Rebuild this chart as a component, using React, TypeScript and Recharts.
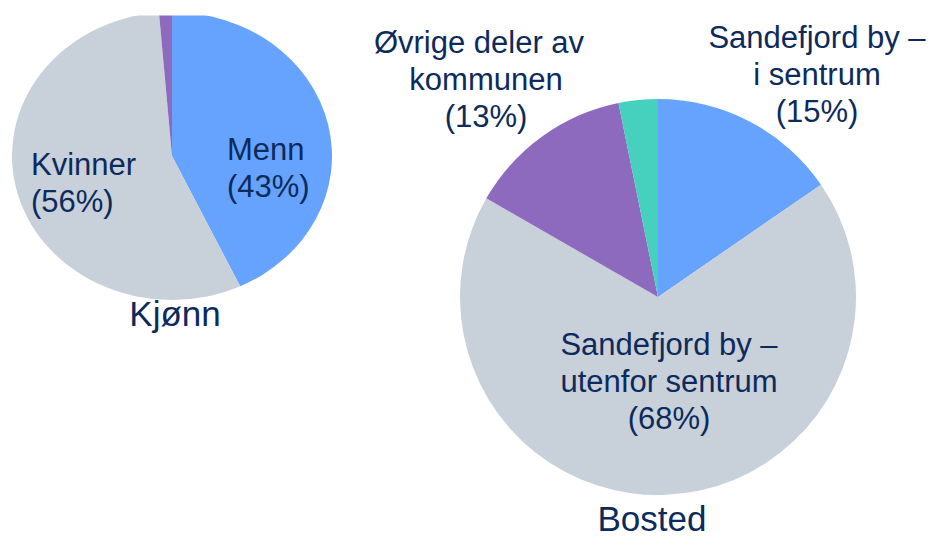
import React from "react";
import { PieChart, Pie, Cell } from "recharts";

// Kjønn
const kjonnNames = ["Menn", "Kvinner", "Annet"];
const kjonnValues = [43, 55.7, 1.3];
const kjonnLabels = [["Menn", "(43%)"], ["Kvinner", "(56%)"], []];

// Bosted
const bostedNames = [
  "Sandefjord by – i sentrum",
  "Sandefjord by – utenfor sentrum",
  "Øvrige deler av kommunen",
  "Annet",
];
const bostedValues = [15.4, 67.9, 13.5, 3.2];
const bostedLabels = [
  ["Sandefjord by –", "i sentrum", "(15%)"],
  ["Sandefjord by –", "utenfor sentrum", "(68%)"],
  ["Øvrige deler av", "kommunen", "(13%)"],
  [],
];

const colors = ["#66A3FF", "#C8D0D9", "#8D6ABD", "#45D1BE"];
const kjonnColors = ["#66A3FF", "#C8D0D9", "#8D6ABD"];
const textColor = "#0C2A5C";
const font = "'Liberation Sans', Arial, sans-serif";

const kjonnData = kjonnNames.map((name, i) => ({ name, value: kjonnValues[i], lines: kjonnLabels[i] }));
const bostedData = bostedNames.map((name, i) => ({ name, value: bostedValues[i], lines: bostedLabels[i] }));

// label offsets from the pie centre (final screen px)
const kjonnPlace: Record<string, any> = {
  Menn: { dx: 55, dy: 4, anchor: "start" },
  Kvinner: { dx: -141, dy: 19, anchor: "start" },
};
const bostedPlace: Record<string, any> = {
  "Sandefjord by – i sentrum": { dx: 159, dy: -249, anchor: "middle" },
  "Sandefjord by – utenfor sentrum": { dx: 11, dy: 58, anchor: "middle" },
  "Øvrige deler av kommunen": { dx: -172, dy: -244, anchor: "middle", first: -7 },
};

const KJONN_SY = 0.9;

function makeLabel(place: Record<string, any>, sy: number) {
  return (props: any) => {
    const name = props.payload?.name ?? props.name;
    const lines: string[] = props.payload?.lines ?? [];
    const p = place[name];
    if (!p || !lines.length) return null;
    return (
      <g transform={`translate(${props.cx + p.dx},${props.cy + p.dy / sy}) scale(1,${1 / sy})`}>
        <text textAnchor={p.anchor} fill={textColor} fontSize={31} fontFamily={font}>
          {lines.map((l, i) => (
            <tspan key={i} x={i === 0 && p.first ? p.first : 0} y={i * 37}>
              {l}
            </tspan>
          ))}
        </text>
      </g>
    );
  };
}

export default function App() {
  return (
    <div style={{ position: "absolute", left: 0, top: 0, width: 938, height: 540, background: "#fff", overflow: "hidden" }}>
      <div
        style={{
          position: "absolute",
          left: 0,
          top: 0,
          width: 340,
          height: 320,
          transform: `scaleY(${KJONN_SY})`,
          transformOrigin: "172px 156px",
        }}
      >
        <PieChart width={340} height={320} margin={{ top: 0, right: 0, bottom: 0, left: 0 }}>
          <Pie
            data={kjonnData}
            dataKey="value"
            nameKey="name"
            cx={172}
            cy={156}
            outerRadius={160}
            startAngle={90}
            endAngle={-270}
            stroke="none"
            labelLine={false}
            label={makeLabel(kjonnPlace, KJONN_SY)}
            isAnimationActive={false}
          >
            {kjonnData.map((d, i) => (
              <Cell key={d.name} fill={kjonnColors[i]} />
            ))}
          </Pie>
        </PieChart>
      </div>
      <div style={{ position: "absolute", left: 340, top: 0, width: 598, height: 540 }}>
        <PieChart width={598} height={540} margin={{ top: 0, right: 0, bottom: 0, left: 0 }}>
          <Pie
            data={bostedData}
            dataKey="value"
            nameKey="name"
            cx={318}
            cy={297}
            outerRadius={198}
            startAngle={90}
            endAngle={-270}
            stroke="none"
            labelLine={false}
            label={makeLabel(bostedPlace, 1)}
            isAnimationActive={false}
          >
            {bostedData.map((d, i) => (
              <Cell key={d.name} fill={colors[i]} />
            ))}
          </Pie>
        </PieChart>
      </div>
      <svg width={938} height={540} style={{ position: "absolute", left: 0, top: 0, pointerEvents: "none" }}>
        <text x={175} y={326} textAnchor="middle" fontSize={35} fill={textColor} fontFamily={font}>
          Kjønn
        </text>
        <text x={652} y={531} textAnchor="middle" fontSize={35} fill={textColor} fontFamily={font}>
          Bosted
        </text>
      </svg>
    </div>
  );
}
